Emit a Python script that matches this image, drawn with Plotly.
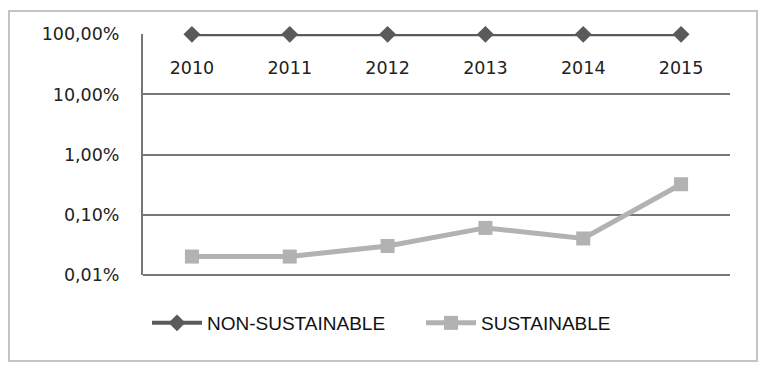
import plotly.graph_objects as go

years = ["2010", "2011", "2012", "2013", "2014", "2015"]
non_sustainable = [100, 100, 100, 100, 100, 100]
sustainable = [0.02, 0.02, 0.03, 0.06, 0.04, 0.32]
y_tickvals = [0.01, 0.1, 1, 10, 100]
y_ticktext = ["0,01%", "0,10%", "1,00%", "10,00%", "100,00%"]

W, H = 765, 369
L, R, T, B = 143, 35, 34, 94
pw, ph = W - L - R, H - T - B

def px(x):
    return (x - L) / pw

def py(y):
    return (H - B - y) / ph

fig = go.Figure()
fig.add_trace(go.Scatter(
    x=years, y=non_sustainable, name="NON-SUSTAINABLE", mode="lines+markers",
    line=dict(color="#5a5a5a", width=4),
    marker=dict(symbol="diamond", size=13, color="#5a5a5a"),
    cliponaxis=False,
))
fig.add_trace(go.Scatter(
    x=years, y=sustainable, name="SUSTAINABLE", mode="lines+markers",
    line=dict(color="#b2b2b2", width=5),
    marker=dict(symbol="square", size=14, color="#b2b2b2"),
    cliponaxis=False,
))

# outer frame
fig.add_shape(type="rect", xref="paper", yref="paper",
              x0=px(9), x1=px(757), y0=py(361), y1=py(11),
              line=dict(color="#c4c4c4", width=2), fillcolor="rgba(0,0,0,0)", layer="below")
# bottom baseline of plot area
fig.add_shape(type="line", xref="paper", yref="paper", x0=0, x1=1, y0=0, y1=0,
              line=dict(color="#777777", width=2), layer="below")

fig.update_layout(
    width=W, height=H,
    margin=dict(l=L, r=R, t=T, b=B, autoexpand=False),
    paper_bgcolor="white", plot_bgcolor="white",
    showlegend=True,
    legend=dict(orientation="h", x=px(147), y=py(304), xanchor="left", yanchor="top",
                font=dict(family="Liberation Sans", size=19, color="#111"),
                itemwidth=50, entrywidth=209, tracegroupgap=0, bgcolor="rgba(0,0,0,0)"),
    xaxis=dict(type="category", range=[-0.5, 5.5], showgrid=False, showline=False,
               zeroline=False, ticks="", anchor="free", position=py(55),
               tickfont=dict(family="DejaVu Sans", size=17.5, color="#222")),
    yaxis=dict(type="log", range=[-2.006, 2.006], tickvals=y_tickvals, ticktext=y_ticktext,
               showgrid=True, gridcolor="#777777", gridwidth=2,
               showline=True, linecolor="#777777", linewidth=2, zeroline=False,
               ticks="", ticklabelstandoff=18,
               tickfont=dict(family="DejaVu Sans", size=17.5, color="#222")),
)

fig.write_html("out.html", config={"displayModeBar": False},
               post_script="document.body.style.margin='0';document.body.style.padding='0';")
